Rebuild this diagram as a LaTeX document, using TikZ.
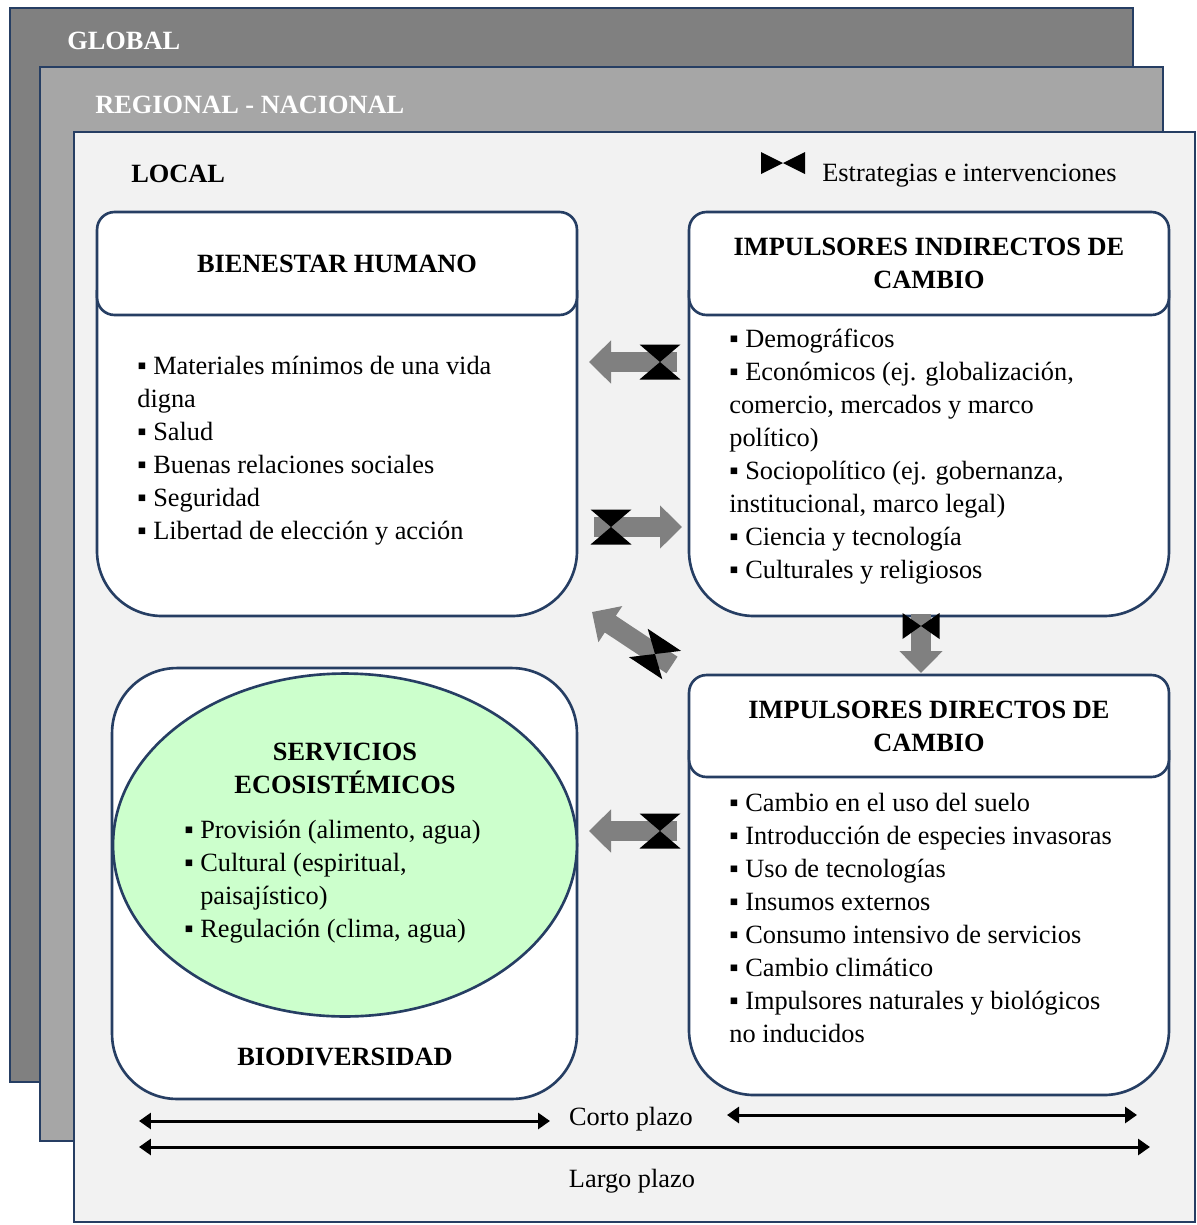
\documentclass[tikz,border=0pt]{standalone}
\usepackage{fontspec}
\setmainfont{Liberation Serif}
\usepackage{tikz}
\usetikzlibrary{shapes.geometric}
\usetikzlibrary{arrows.meta}
\usetikzlibrary{positioning,calc}

\definecolor{borde}{RGB}{38,62,99}
\definecolor{gris1}{RGB}{128,128,128}
\definecolor{gris2}{RGB}{166,166,166}
\definecolor{fondo}{RGB}{242,242,242}
\definecolor{flecha}{RGB}{128,128,128}
\definecolor{verde}{RGB}{204,255,204}

\newcommand{\vin}{▪\ }

\tikzset{
  capa/.style={draw=borde, line width=1.5pt},
  letra/.style={font=\fontsize{15}{18.8}\selectfont},
  titulo/.style={font=\fontsize{15}{18.8}\selectfont\bfseries},
  texto/.style={letra, align=left, inner sep=0pt, anchor=north west},
  cabecera/.style={draw=borde, line width=1.5pt, fill=white, rounded corners=0.35cm,
    minimum width=9.6cm, minimum height=2.06cm, align=center, titulo},
  cuerpo/.style={draw=borde, line width=1.5pt, fill=white, rounded corners=1.3cm},
  flechagris/.style={color=flecha, line width=0.4cm,
    -{Triangle[length=0.44cm, width=0.84cm]}},
  plazo/.style={color=black, line width=0.06cm,
    {Triangle[length=0.24cm, width=0.32cm]}-{Triangle[length=0.24cm, width=0.32cm]}},
  pics/lazo/.style 2 args={code={
    \fill[black] (-#1,-#2) -- (#1,-#2) -- (0,0) -- cycle (-#1,#2) -- (#1,#2) -- (0,0) -- cycle;}}
}

\begin{document}
\begin{tikzpicture}[x=0.02cm, y=-0.02cm]
    \useasboundingbox (0,0) rectangle (1197,1225);
    \fill[white] (0,0) rectangle (1197,1225);
    % escalas
    \draw[capa, fill=gris1] (10,8) rectangle (1133,1082);
    \draw[capa, fill=gris2] (40,67) rectangle (1163,1141);
    \draw[capa, fill=fondo] (74,132) rectangle (1195,1222);
    \node[titulo, text=white, anchor=base west, inner sep=0pt] (global) at (67,49) {GLOBAL};
    \node[titulo, text=white, anchor=base west, inner sep=0pt] (regional) at (95,113) {REGIONAL - NACIONAL};
    \node[titulo, anchor=base west, inner sep=0pt] (local) at (131,182) {LOCAL};

    % leyenda
    \pic[rotate=90] at (783,163) {lazo={11}{22}};
    \node[letra, anchor=base west, inner sep=0pt] (leyenda) at (822,181) {Estrategias e intervenciones};

    % bienestar humano
    \draw[cuerpo] (97,290) -- (97,616) -- (577,616) -- (577,290);
    \node[cabecera] (bienestar) at (337,263.5) {BIENESTAR HUMANO};
    \node[texto] (lbienestar) at (137,351) {\strut\vin Materiales mínimos de una vida\\digna\\\vin Salud\\\vin Buenas relaciones sociales\\\vin Seguridad\\\vin Libertad de elección y acción};

    % impulsores indirectos
    \draw[cuerpo] (689,290) -- (689,616) -- (1169,616) -- (1169,290);
    \node[cabecera] (indirectos) at (929,263.5) {IMPULSORES INDIRECTOS DE\\CAMBIO};
    \node[texto] (lindirectos) at (729,324) {\strut\vin Demográficos\\\vin Económicos (ej. globalización,\\comercio, mercados y marco\\político)\\\vin Sociopolítico (ej. gobernanza,\\institucional, marco legal)\\\vin Ciencia y tecnología\\\vin Culturales y religiosos};

    % impulsores directos
    \draw[cuerpo] (689,750) -- (689,1095) -- (1169,1095) -- (1169,750);
    \node[cabecera, minimum height=2.04cm] (directos) at (929,726) {IMPULSORES DIRECTOS DE\\CAMBIO};
    \node[texto] (ldirectos) at (729,788) {\strut\vin Cambio en el uso del suelo\\\vin Introducción de especies invasoras\\\vin Uso de tecnologías\\\vin Insumos externos\\\vin Consumo intensivo de servicios\\\vin Cambio climático\\\vin Impulsores naturales y biológicos\\no inducidos};

    % biodiversidad y servicios
    \node[draw=borde, line width=1.5pt, fill=white, rounded corners=1.3cm,
          minimum width=9.3cm, minimum height=8.62cm] (biodiv) at (344.5,883.5) {};
    \node[ellipse, draw=borde, line width=1.5pt, fill=verde,
          minimum width=9.28cm, minimum height=6.86cm] (servicios) at (345,845) {};
    \node[titulo, align=center, anchor=north, inner sep=0pt] (tservicios) at (345,737) {\strut SERVICIOS\\ECOSISTÉMICOS};
    \node[texto] (lservicios) at (184,815) {\strut\vin Provisión (alimento, agua)\\\vin Cultural (espiritual,\\\phantom{\vin}paisajístico)\\\vin Regulación (clima, agua)};
    \node[titulo, anchor=base, inner sep=0pt] (tbiodiv) at (345,1065) {BIODIVERSIDAD};

    % flechas entre cajas
    \coordinate (a1) at (677,362);  \coordinate (b1) at (589,362);
    \coordinate (a2) at (594,527);  \coordinate (b2) at (682,527);
    \coordinate (a3) at (921,614);  \coordinate (b3) at (921,673);
    \coordinate (a4) at (672,665);  \coordinate (b4) at (592,612);
    \coordinate (a5) at (677,831);  \coordinate (b5) at (589,831);
    \draw[flechagris] (a1) -- (b1);
    \draw[flechagris] (a2) -- (b2);
    \draw[flechagris] (a3) -- (b3);
    \draw[flechagris] (a4) -- (b4);
    \draw[flechagris] (a5) -- (b5);
    \pic at (660,362) {lazo={20.5}{17.5}};
    \pic at (611,527) {lazo={20.5}{17.5}};
    \pic[rotate=90] at (921,626) {lazo={13}{18.5}};
    \pic[rotate=-33.5] at (655,654) {lazo={20}{17}};
    \pic at (660,831) {lazo={20.5}{17.5}};

    % plazos
    \coordinate (c1) at (139,1121);  \coordinate (c2) at (550,1121);
    \coordinate (c3) at (727,1115);  \coordinate (c4) at (1137,1115);
    \coordinate (l1) at (139,1147);  \coordinate (l2) at (1150,1147);
    \draw[plazo] (c1) -- (c2);
    \draw[plazo] (c3) -- (c4);
    \draw[plazo] (l1) -- (l2);
    \node[letra, anchor=base, inner sep=0pt] (corto) at (631,1125) {Corto plazo};
    \node[letra, anchor=base, inner sep=0pt] (largo) at (632,1187) {Largo plazo};
\end{tikzpicture}
\end{document}
